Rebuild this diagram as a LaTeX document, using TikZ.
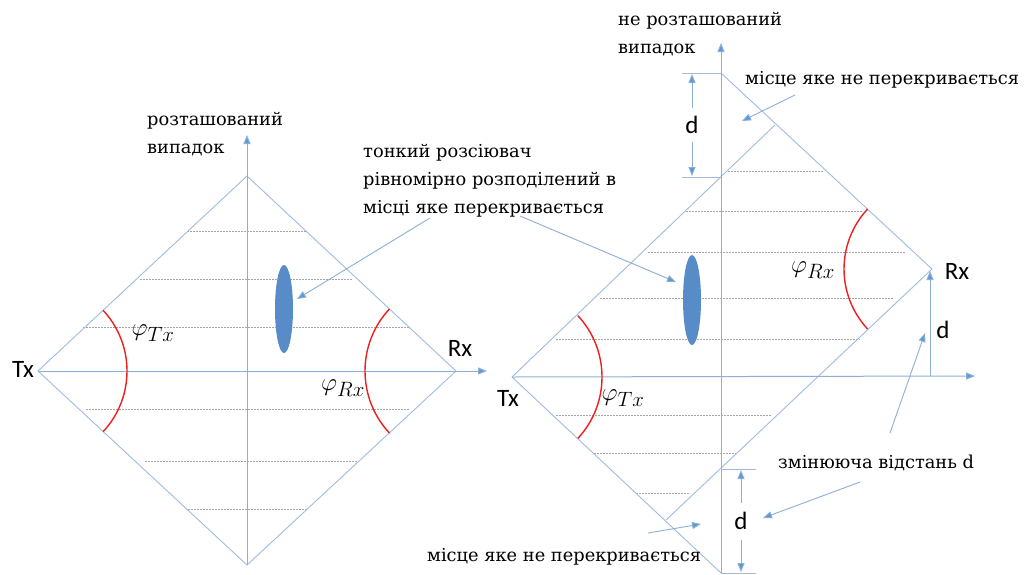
\documentclass[tikz,border=0pt]{standalone}
\usepackage{fontspec}
\setmainfont{DejaVu Serif}
\newfontfamily\lblfont{Carlito}
\usetikzlibrary{arrows.meta,shapes.geometric}
\definecolor{edgeblue}{RGB}{160,188,222}
\definecolor{axisblue}{RGB}{140,175,215}
\definecolor{tipblue}{RGB}{91,155,213}
\definecolor{fillblue}{RGB}{88,140,200}
\definecolor{dashgray}{RGB}{165,165,165}
\definecolor{arcred}{RGB}{240,30,30}
\tikzset{
  edge/.style={draw=edgeblue, line width=0.9pt},
  axis/.style={draw=axisblue, line width=1pt, -{Triangle[length=9pt,width=7pt,fill=tipblue]}},
  pointer/.style={draw=axisblue, line width=0.9pt, -{Triangle[length=9pt,width=7pt,fill=tipblue]}},
  hatch/.style={draw=dashgray, line width=0.5pt, dash pattern=on 2pt off 1pt},
  redarc/.style={draw=arcred, line width=1.4pt},
  scatterer/.style={fill=fillblue, draw=none},
  txt/.style={font=\fontsize{17.8}{28}\selectfont, anchor=west, align=left, inner sep=0pt},
  lbl/.style={font=\lblfont\fontsize{25}{25}\selectfont, inner sep=0pt},
  phi/.style={font=\fontsize{29}{29}\selectfont, inner sep=0pt},
  tick/.style={draw=edgeblue, line width=0.9pt}
}
\begin{document}
\begin{tikzpicture}[x=1pt,y=-1pt]
\useasboundingbox[fill=white] (0,0) rectangle (1033,574);
% ---------- left diagram ----------
\coordinate (TxL) at (38,371);
\coordinate (TopL) at (247,176);
\coordinate (RxL) at (456,371);
\coordinate (BotL) at (247,565);
\coordinate (AxLx) at (487,371);
\coordinate (AxLy) at (247,135);
\foreach \y/\a/\b in {231/187/307, 279/140/352, 327/83/410, 409/86/410, 461/145/357, 509/188/307}
  \draw[hatch] (\a,\y) -- (\b,\y);
\draw[edge] (TxL) -- (TopL) -- (RxL) -- (BotL) -- cycle;
\draw[axis] (TxL) -- (AxLx);
\draw[axis] (BotL) -- (AxLy);
\draw[redarc] ([shift={(TxL)}]-43:89) arc[start angle=-43, end angle=43, radius=89];
\draw[redarc] ([shift={(RxL)}]137:91) arc[start angle=137, end angle=223, radius=91];
\node[scatterer, ellipse, minimum width=18pt, minimum height=88pt] (scL) at (284,309) {};
\node[lbl, anchor=center] (txL) at (23,369) {Tx};
\node[lbl, anchor=center] (rxL) at (460,348) {Rx};
\node[phi, anchor=center] (phiTxL) at (153,333) {$\varphi_{Tx}$};
\node[phi, anchor=center] (phiRxL) at (343,388) {$\varphi_{Rx}$};
\node[txt] (caseL) at (147,134) {розташований\\випадок};
\node[txt] (scText) at (363,181) {тонкий розсіювач\\рівномірно розподілений в\\місці яке перекривається};
\coordinate (scFrom) at (430,218);
\draw[pointer] (scFrom) -- (297,299);
% ---------- right diagram ----------
\coordinate (TxR) at (512,377);
\coordinate (RxR) at (932,269);
\coordinate (A) at (775,125);
\coordinate (TopR) at (721,73);
\coordinate (B) at (666,520);
\coordinate (BotR) at (721,573);
\coordinate (AxRx) at (975,376);
\coordinate (AxRy) at (721,43);
\foreach \y/\a/\b in {171/728/824, 211/686/862, 252/648/905, 298/600/893, 339/556/860, 415/556/772, 453/594/736, 493/636/690}
  \draw[hatch] (\a,\y) -- (\b,\y);
\draw[edge] (TxR) -- (A);
\draw[edge] (TopR) -- (RxR);
\draw[edge] (RxR) -- (B);
\draw[edge] (TxR) -- (BotR);
\draw[axis] (TxR) -- (AxRx);
\draw[axis] (BotR) -- (AxRy);
\coordinate (dBase) at (930,376);
\draw[pointer] (dBase) -- (930,271);
\draw[redarc] ([shift={(TxR)}]-43:90) arc[start angle=-43, end angle=43, radius=90];
\draw[redarc] ([shift={(RxR)}]137:88) arc[start angle=137, end angle=223, radius=88];
\node[scatterer, ellipse, minimum width=18pt, minimum height=90pt] (scR) at (692,300) {};
\node[lbl, anchor=center] (txR) at (508,398) {Tx};
\node[lbl, anchor=center] (rxR) at (957,271) {Rx};
\node[phi, anchor=center] (phiRxR) at (813,270) {$\varphi_{Rx}$};
\node[phi, anchor=center] (phiTxR) at (623,398) {$\varphi_{Tx}$};
% top dimension
\draw[tick] (682,73) -- (TopR);
\draw[tick] (682,177) -- (721,177);
\node[lbl, anchor=center] (dTop) at (692,125) {d};
\draw[pointer] (692,108) -- (692,74);
\draw[pointer] (692,142) -- (692,176);
% bottom dimension
\draw[tick] (721,469) -- (756,469);
\draw[tick] (721,573) -- (756,573);
\node[lbl, anchor=center] (dBot) at (741,521) {d};
\draw[pointer] (741,503) -- (741,470);
\draw[pointer] (741,540) -- (741,572);
\node[lbl, anchor=center] (dRx) at (943,330) {d};
% texts
\node[txt] (caseR) at (618,34) {не розташований\\випадок};
\node[txt] (noTop) at (745,80) {місце яке не перекривається};
\node[txt] (varD) at (778,463) {змінююча відстань d};
\node[txt] (noBot) at (427,557) {місце яке не перекривається};
% pointers
\draw[pointer] (795,95) -- (742,121);
\draw[pointer] (520,216) -- (676,282);
\draw[pointer] (890,433) -- (925,333);
\draw[pointer] (860,482) -- (763,518);
\draw[pointer] (648,533) -- (701,524);
\end{tikzpicture}
\end{document}
